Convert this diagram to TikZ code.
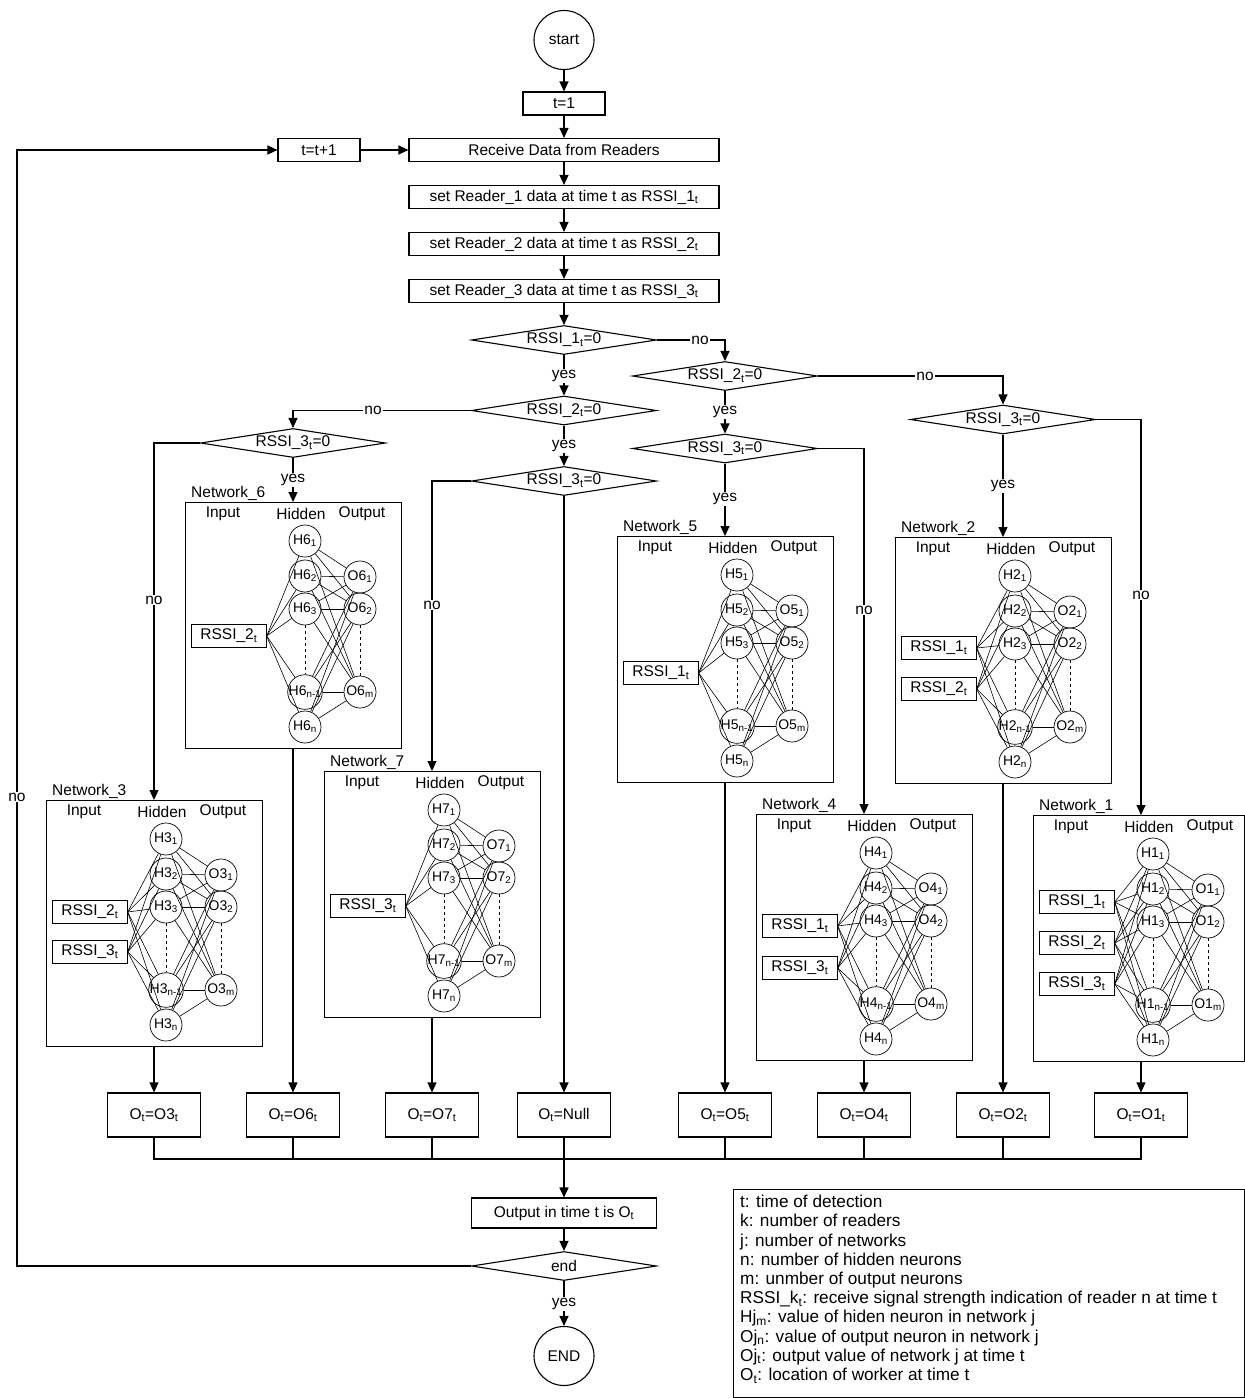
\documentclass[tikz,border=0pt]{standalone}
\usepackage{fontspec}
\setmainfont{Liberation Sans}
\usetikzlibrary{shapes.geometric,arrows.meta,calc}
\newcommand\sbt[1]{\textsubscript{#1}}
\tikzset{
  every node/.style={font=\fontsize{15.5}{18}\selectfont},
  box/.style={draw, line width=1.1pt, inner sep=0pt, minimum height=23pt},
  dec/.style={draw, diamond, aspect=6.5, line width=1.1pt, inner sep=0pt, minimum width=185pt, minimum height=29pt},
  term/.style={draw, ellipse, line width=1.1pt, minimum width=60pt, minimum height=59pt, inner sep=0pt},
  arr/.style={line width=1.1pt, -{Triangle[length=10pt,width=9pt]}},
  ln/.style={line width=1.1pt},
  lbl/.style={fill=white, inner sep=1pt},
  netbox/.style={draw, line width=1.1pt, inner sep=0pt},
  ttl/.style={inner sep=1pt},
  neuron/.style={draw, circle, line width=0.7pt, minimum size=32pt, inner sep=0pt, font=\fontsize{14}{15}\selectfont},
  inbox/.style={draw, line width=0.7pt, minimum width=75pt, minimum height=23pt, inner sep=0pt},
  conn/.style={line width=0.6pt},
  outb/.style={draw, line width=1.1pt, minimum width=93pt, minimum height=44pt, inner sep=0pt}
}
\newcommand\drawnet[5]{%
  \node[netbox, minimum width=#4pt, minimum height=246pt, anchor=north west] (N#1) at (#2,#3) {};
  \node[ttl, anchor=south west] (N#1t) at (#2+5,#3) {Network\_#1};
  \node[ttl] (N#1a) at (#2+38,#3+12) {Input};
  \node[ttl] (N#1b) at (#2+116,#3+12) {Hidden};
  \node[ttl] (N#1c) at (#2+177,#3+12) {Output};
  \coordinate (N#1in) at (#2+108,#3);
  \coordinate (N#1out) at (#2+108,#3+246);
  \foreach \i/\dy/\s in {1/39/1,2/74/2,3/107/3,4/190/n-1,5/225/n}
    \node[neuron] (H#1-\i) at (#2+120,#3+\dy) {H#1\sbt{\s}};
  \foreach \i/\dy/\s in {1/75/1,2/107/2,3/190/m}
    \node[neuron] (O#1-\i) at (#2+175,#3+\dy) {O#1\sbt{\s}};
  \foreach \a in {1,...,5}{\foreach \b in {1,2,3}{\draw[conn] (H#1-\a) -- (O#1-\b);}}
  \draw[conn, dashed] (H#1-3) -- (H#1-4);
  \draw[conn, dashed] (O#1-2) -- (O#1-3);
  \foreach \dy/\lab [count=\c] in {#5}{%
    \node[inbox, anchor=west] (I#1-\c) at (#2+6,#3+\dy) {RSSI\_\lab\sbt{t}};
    \foreach \a in {1,...,5}{\draw[conn] (I#1-\c.east) -- (H#1-\a);}
  }%
}
\begin{document}
\begin{tikzpicture}[x=1pt,y=-1pt]
\useasboundingbox (0,0) rectangle (1245,1398);
% main column
\node[term] (start) at (564,40) {start};
\node[box, minimum width=82pt] (t1) at (564,103.5) {t=1};
\node[box, minimum width=310pt] (recv) at (564,150) {Receive Data from Readers};
\node[box, minimum width=82pt] (tinc) at (319,150) {t=t+1};
\node[box, minimum width=310pt] (r1) at (564,197) {set Reader\_1 data at time t as RSSI\_1\sbt{t}};
\node[box, minimum width=310pt] (r2) at (564,244) {set Reader\_2 data at time t as RSSI\_2\sbt{t}};
\node[box, minimum width=310pt] (r3) at (564,291) {set Reader\_3 data at time t as RSSI\_3\sbt{t}};
% decisions
\node[dec] (d1) at (564,340) {RSSI\_1\sbt{t}=0};
\node[dec] (d2b) at (725,376) {RSSI\_2\sbt{t}=0};
\node[dec] (d2a) at (564,410.5) {RSSI\_2\sbt{t}=0};
\node[dec] (d3c) at (1003,419.5) {RSSI\_3\sbt{t}=0};
\node[dec] (d3a) at (293,443) {RSSI\_3\sbt{t}=0};
\node[dec] (d3b) at (725,448.5) {RSSI\_3\sbt{t}=0};
\node[dec] (d3d) at (564,481) {RSSI\_3\sbt{t}=0};
% networks
\drawnet{6}{185}{502}{216}{134/2}
\drawnet{7}{324}{771}{216}{135/3}
\drawnet{5}{617}{536}{216}{137/1}
\drawnet{3}{46}{800}{216}{112/2,152/3}
\drawnet{4}{756}{814}{216}{112/1,154/3}
\drawnet{2}{895}{537}{216}{111/1,152/2}
\drawnet{1}{1033}{815}{211}{87/1,128/2,169/3}
% output boxes
\node[outb] (o3) at (154,1115) {O\sbt{t}=O3\sbt{t}};
\node[outb] (o6) at (293,1115) {O\sbt{t}=O6\sbt{t}};
\node[outb] (o7) at (432,1115) {O\sbt{t}=O7\sbt{t}};
\node[outb] (onull) at (564,1115) {O\sbt{t}=Null};
\node[outb] (o5) at (725,1115) {O\sbt{t}=O5\sbt{t}};
\node[outb] (o4) at (864,1115) {O\sbt{t}=O4\sbt{t}};
\node[outb] (o2) at (1003,1115) {O\sbt{t}=O2\sbt{t}};
\node[outb] (o1) at (1141,1115) {O\sbt{t}=O1\sbt{t}};
\node[box, minimum width=185pt, minimum height=30pt] (fin) at (564,1213) {Output in time t is O\sbt{t}};
\node[dec] (endd) at (564,1266) {end};
\node[term] (endc) at (564,1356) {END};
% connectors
\draw[arr] (start) -- (t1);
\draw[arr] (t1) -- (recv);
\draw[arr] (tinc) -- (recv);
\draw[arr] (recv) -- (r1);
\draw[arr] (r1) -- (r2);
\draw[arr] (r2) -- (r3);
\draw[arr] (r3) -- (d1);
\draw[arr] (d1.east) -| (d2b.north); \node[lbl] at (700,340) {no};
\draw[arr] (d1.south) -- (d2a.north); \node[lbl] at (564,376) {yes};
\draw[arr] (d2b.east) -| (d3c.north); \node[lbl] at (925,376) {no};
\draw[arr] (d2b.south) -- (d3b.north); \node[lbl] at (725,412) {yes};
\draw[arr] (d2a.south) -- (d3d.north); \node[lbl] at (564,446) {yes};
\draw[arr] (d2a.west) -| (d3a.north); \node[lbl] at (373,410.5) {no};
\draw[arr] (d3a.south) -- (N6in); \node[lbl] at (293,480) {yes};
\draw[arr] (d3a.west) -| (N3in); \node[lbl] at (154,600) {no};
\draw[arr] (d3d.west) -| (N7in); \node[lbl] at (432,605) {no};
\draw[arr] (d3d.south) -- (onull.north);
\draw[arr] (d3b.south) -- (N5in); \node[lbl] at (725,499) {yes};
\draw[arr] (d3b.east) -| (N4in); \node[lbl] at (864,610) {no};
\draw[arr] (d3c.south) -- (N2in); \node[lbl] at (1003,486) {yes};
\draw[arr] (d3c.east) -| (N1in); \node[lbl] at (1141,595) {no};
\draw[arr] (N6out) -- (o6.north);
\draw[arr] (N3out) -- (o3.north);
\draw[arr] (N7out) -- (o7.north);
\draw[arr] (N5out) -- (o5.north);
\draw[arr] (N4out) -- (o4.north);
\draw[arr] (N2out) -- (o2.north);
\draw[arr] (N1out) -- (o1.north);
\coordinate (mg) at (564,1159);
\foreach \b in {o3,o6,o7,onull,o5,o4,o2,o1} \draw[ln] (\b.south) |- (mg);
\draw[arr, line width=1.6pt] (mg) -- (fin.north);
\draw[arr] (fin) -- (endd);
\draw[arr] (endd.south) -- (endc.north); \node[lbl] at (564,1304) {yes};
\coordinate (lc) at (17,1266);
\draw[arr] (endd.west) -- (lc) |- (tinc.west); \node[lbl] at (17,797) {no};
% legend
\node[draw, line width=0.8pt, minimum width=511pt, minimum height=208pt, anchor=north west, inner sep=0pt] (leg) at (733,1189) {};
\node[anchor=north west, align=left, inner sep=0pt, font=\fontsize{17.2}{19.2}\selectfont] (legt) at (740,1195) {%
t: time of detection\\
k: number of readers\\
j: number of networks\\
n: number of hidden neurons\\
m: unmber of output neurons\\
RSSI\_k\sbt{t}: receive signal strength indication of reader n at time t\\
Hj\sbt{m}: value of hiden neuron in network j\\
Oj\sbt{n}: value of output neuron in network j\\
Oj\sbt{t}: output value of network j at time t\\
O\sbt{t}: location of worker at time t};
\end{tikzpicture}
\end{document}
